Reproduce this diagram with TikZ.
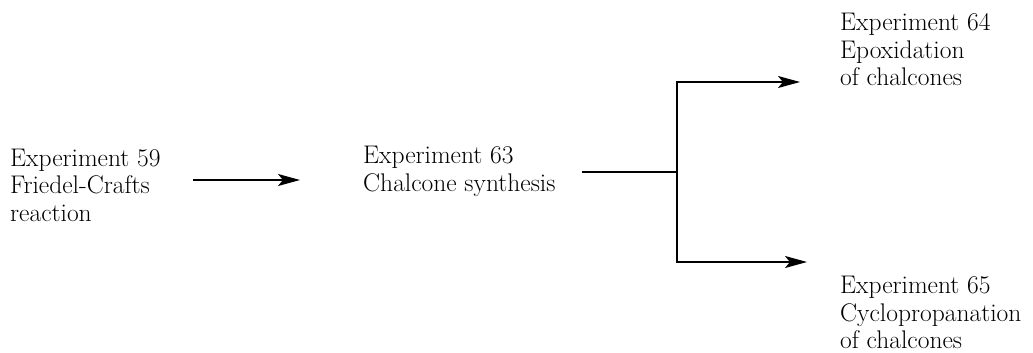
\documentclass[tikz,border=0pt]{standalone}
\usetikzlibrary{arrows.meta}
\begin{document}
\begin{tikzpicture}[x=1pt,y=-1pt,
  lbl/.style={anchor=west,inner sep=0pt,align=left,font=\fontsize{25.5}{27.5}\selectfont},
  arr/.style={line width=1.2pt,-{Stealth[length=22pt,width=12pt,inset=5pt]}},
  ln/.style={line width=1.2pt}]
\useasboundingbox (0,0) rectangle (1033,353);
\node[lbl] (n59) at (10,185) {Experiment 59\\Friedel-Crafts\\reaction};
\node[lbl] (n63) at (363,171.5) {Experiment 63\\Chalcone synthesis};
\node[lbl] (n64) at (840,49.5) {Experiment 64\\Epoxidation\\of chalcones};
\node[lbl] (n65) at (840,312.5) {Experiment 65\\Cyclopropanation\\of chalcones};
\coordinate (a1s) at (193,180);
\coordinate (a1e) at (300,180);
\coordinate (bs) at (582,172);
\coordinate (j) at (677,172);
\coordinate (jt) at (677,82);
\coordinate (jb) at (677,262);
\coordinate (et) at (800,82);
\coordinate (eb) at (807,262);
\draw[arr] (a1s) -- (a1e);
\draw[ln] (bs) -- (j);
\draw[arr] (j) -- (jt) -- (et);
\draw[arr] (j) -- (jb) -- (eb);
\end{tikzpicture}
\end{document}
